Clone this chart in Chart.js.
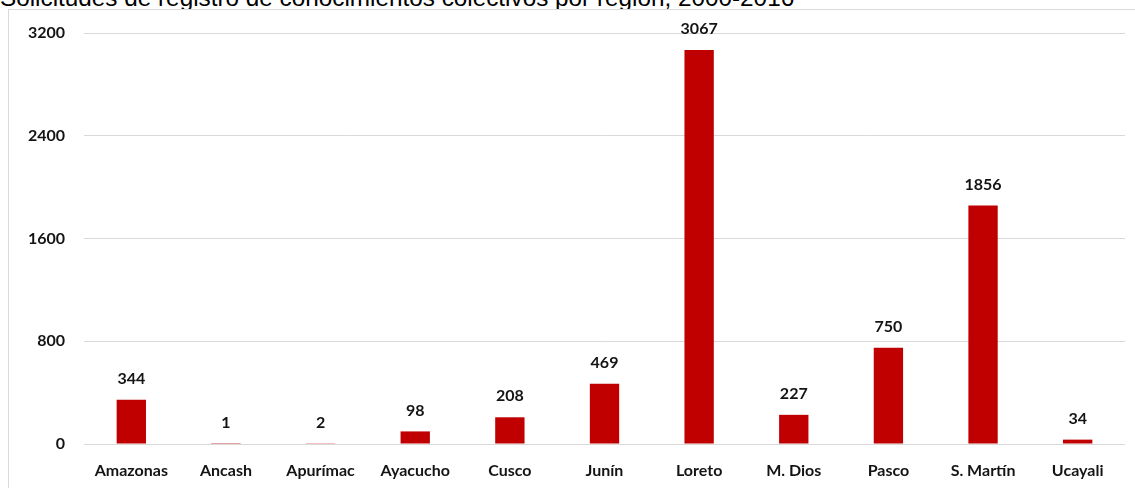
<!DOCTYPE html>
<html>
<head>
<meta charset="utf-8">
<script src="https://cdn.jsdelivr.net/npm/chart.js@4"></script>
<style>
  html, body { margin: 0; padding: 0; background: #fff; overflow: hidden; }
  #title {
    position: absolute; left: 0; top: -16px;
    font-family: "Liberation Sans", Arial, sans-serif; font-size: 24.3px; color: #000;
    white-space: nowrap; line-height: 28px;
  }
  #box {
    position: absolute; left: 8px; top: 9px; width: 1140px; height: 490px;
    border: 1px solid #d9d9d9; background: #fff;
  }
  #wrap { position: absolute; left: 0; top: 0; width: 1126px; height: 478px; }
</style>
</head>
<body>
<div id="title">Solicitudes de registro de conocimientos colectivos por región, 2000-2016</div>
<div id="box"><div id="wrap"><canvas id="myChart"></canvas></div></div>
<script>
const regions = ['Amazonas', 'Ancash', 'Apurímac', 'Ayacucho', 'Cusco', 'Junín', 'Loreto', 'M. Dios', 'Pasco', 'S. Martín', 'Ucayali'];
const solicitudes = [344, 1, 2, 98, 208, 469, 3067, 227, 750, 1856, 34];
const yTicks = [0, 800, 1600, 2400, 3200];

const labelFont = { family: 'Lato, "Open Sans", sans-serif', size: 16, weight: 'bold' };
const textColor = '#141414';

// values above bars
const valueLabels = {
    id: 'value_labels',
    afterDatasetsDraw: (chart) => {
        const ctx = chart.ctx;
        const meta = chart.getDatasetMeta(0);
        ctx.save();
        ctx.font = 'bold 16px Lato, "Open Sans", sans-serif';
        ctx.fillStyle = textColor;
        ctx.textAlign = 'center';
        ctx.textBaseline = 'middle';
        meta.data.forEach((bar, i) => {
            ctx.fillText(String(solicitudes[i]), bar.x, bar.y - 21);
        });
        ctx.restore();
    },
};

let ctx = document.getElementById('myChart').getContext('2d');
let myChart = new Chart(ctx, {
    type: 'bar',
    data: {
        labels: regions,
        datasets: [{
            label: 'Solicitudes',
            data: solicitudes,
            backgroundColor: '#c00000',
            borderWidth: 0,
            categoryPercentage: 1,
            barPercentage: 0.31,
        }]
    },
    options: {
        responsive: true,
        maintainAspectRatio: false,
        animation: false,
        layout: { padding: { top: 23, right: 10, left: 0, bottom: 0 } },
        plugins: {
            legend: { display: false },
            tooltip: { enabled: false },
        },
        scales: {
            x: {
                grid: { display: false, drawTicks: false },
                border: { display: false },
                ticks: { font: labelFont, color: textColor, padding: 17, maxRotation: 0, autoSkip: false },
                afterFit: (scale) => { scale.height = 44; },
            },
            y: {
                min: 0,
                max: 3200,
                afterBuildTicks: (scale) => { scale.ticks = yTicks.map(v => ({ value: v })); },
                grid: { color: '#d9d9d9', lineWidth: 1, drawTicks: true, tickLength: 19, tickColor: 'rgba(0,0,0,0)' },
                border: { display: false },
                ticks: { font: labelFont, color: textColor, padding: 0, callback: (v) => String(v) },
                afterFit: (scale) => { scale.width = 75; },
            },
        },
    },
    plugins: [valueLabels],
});
</script>
</body>
</html>
